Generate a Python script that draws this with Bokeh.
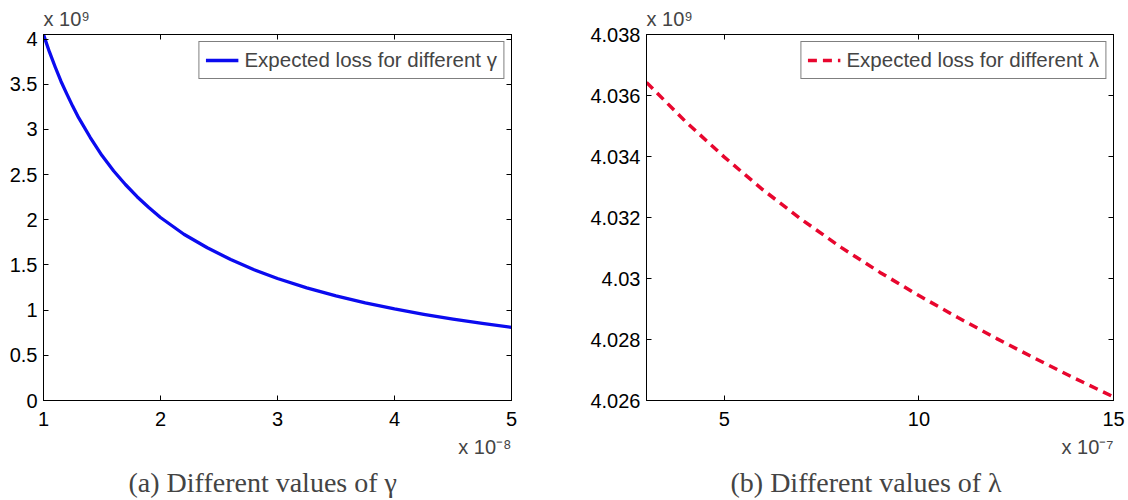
from bokeh.plotting import figure
from bokeh.models import Range1d, LinearAxis, FixedTicker, CustomJSTickFormatter, Title
from bokeh.layouts import row
from bokeh.embed import file_html
from bokeh.resources import INLINE

# ---- data (values as displayed: x in units of 1e-8 / 1e-7, loss in units of 1e9) ----
gamma_x = [1.0, 1.05, 1.1, 1.15, 1.2, 1.25, 1.3, 1.4, 1.5, 1.6, 1.7, 1.8, 1.9, 2.0,
           2.2, 2.4, 2.6, 2.8, 3.0, 3.25, 3.5, 3.75, 4.0, 4.25, 4.5, 4.75, 5.0]
gamma_loss = [4.05, 3.86, 3.69, 3.53, 3.39, 3.255, 3.13, 2.91, 2.71, 2.54, 2.39, 2.255,
              2.135, 2.025, 1.84, 1.69, 1.56, 1.447, 1.35, 1.247, 1.158, 1.081, 1.013,
              0.953, 0.90, 0.853, 0.81]

lambda_x = [3, 4, 5, 6, 7, 8, 9, 10, 11, 12, 13, 14, 15]
lambda_loss = [4.03643, 4.03515, 4.03398, 4.03290, 4.03192, 4.03102, 4.03020,
               4.02944, 4.02872, 4.02803, 4.02737, 4.02673, 4.02612]

left_xticks = [1, 2, 3, 4, 5]
left_yticks = [0, 0.5, 1, 1.5, 2, 2.5, 3, 3.5, 4]
right_xticks = [5, 10, 15]
right_yticks = [4.026, 4.028, 4.030, 4.032, 4.034, 4.036, 4.038]

FONT = "Liberation Sans"
SERIF = "Liberation Serif"
FS = "20px"

fmt_code = "return String(Number(tick.toPrecision(10)));"


def build(xr, yr, xticks, yticks, bl, br, top_label, bottom_label, caption, cap_offset):
    p = figure(width=564, height=500, x_range=Range1d(*xr), y_range=Range1d(*yr),
               output_backend="svg", toolbar_location=None,
               min_border_left=bl, min_border_right=br, min_border_top=0, min_border_bottom=98,
               x_axis_type=None, y_axis_type=None)
    p.xgrid.visible = False
    p.ygrid.visible = False
    p.outline_line_color = "black"
    p.background_fill_color = "white"
    p.border_fill_color = "white"

    def style(ax, labels=True):
        ax.axis_line_color = "black"
        ax.major_tick_in = 5
        ax.major_tick_out = 0
        ax.minor_tick_line_color = None
        ax.major_tick_line_color = "black"
        ax.major_label_text_font = FONT
        ax.major_label_text_font_size = FS
        ax.major_label_text_color = "black"
        ax.major_label_standoff = 6
        if not labels:
            ax.formatter = CustomJSTickFormatter(code="return '';")
            ax.major_label_standoff = 0
        else:
            ax.formatter = CustomJSTickFormatter(code=fmt_code)

    xb = LinearAxis(ticker=FixedTicker(ticks=xticks))
    style(xb)
    xb.major_label_standoff = 11
    p.add_layout(xb, "below")
    yl = LinearAxis(ticker=FixedTicker(ticks=yticks))
    style(yl)
    p.add_layout(yl, "left")
    xt = LinearAxis(ticker=FixedTicker(ticks=xticks))
    style(xt, labels=False)
    p.add_layout(xt, "above")
    yr_ax = LinearAxis(ticker=FixedTicker(ticks=yticks))
    style(yr_ax, labels=False)
    p.add_layout(yr_ax, "right")

    p.title = Title(text=top_label, align="left", text_font=FONT,
                    text_font_size="20px", text_font_style="normal", standoff=10, offset=0)
    p.add_layout(Title(text=bottom_label, align="right", text_font=FONT, text_font_size="20px",
                       text_font_style="normal", standoff=10), "below")
    p.add_layout(Title(text=caption, align="left", text_font=SERIF, text_font_size="28px",
                       text_font_style="normal", standoff=5, offset=cap_offset), "below")
    return p


p1 = build((1, 5), (0, 4.05), left_xticks, left_yticks, 43, 53,
           "x 10\u2079", "x 10\u207b\u2078", "(a) Different values of \u03b3", 85)
p1.line(gamma_x, gamma_loss, line_color="#0b0bef", line_width=3.3, line_join="round",
        legend_label="Expected loss for different \u03b3")

p2 = build((3, 15), (4.026, 4.038), right_xticks, right_yticks, 82, 15,
           "x 10\u2079", "x 10\u207b\u2077", "(b) Different values of \u03bb", 84)
p2.line(lambda_x, lambda_loss, line_color="#e8062e", line_width=3.5, line_dash="9 6",
        legend_label="Expected loss for different \u03bb")

for p in (p1, p2):
    lg = p.legend[0]
    lg.location = "top_right"
    lg.margin = 7
    lg.padding = 6
    lg.spacing = 0
    lg.border_line_color = "black"
    lg.border_line_width = 1
    lg.background_fill_color = "white"
    lg.background_fill_alpha = 1
    lg.label_text_font = FONT
    lg.label_text_font_size = "20.5px"
    lg.label_standoff = 6
    lg.glyph_width = 33
    lg.glyph_height = 20
    lg.label_height = 20

layout = row(p1, p2)
open("out.html", "w").write(file_html(layout, INLINE))
